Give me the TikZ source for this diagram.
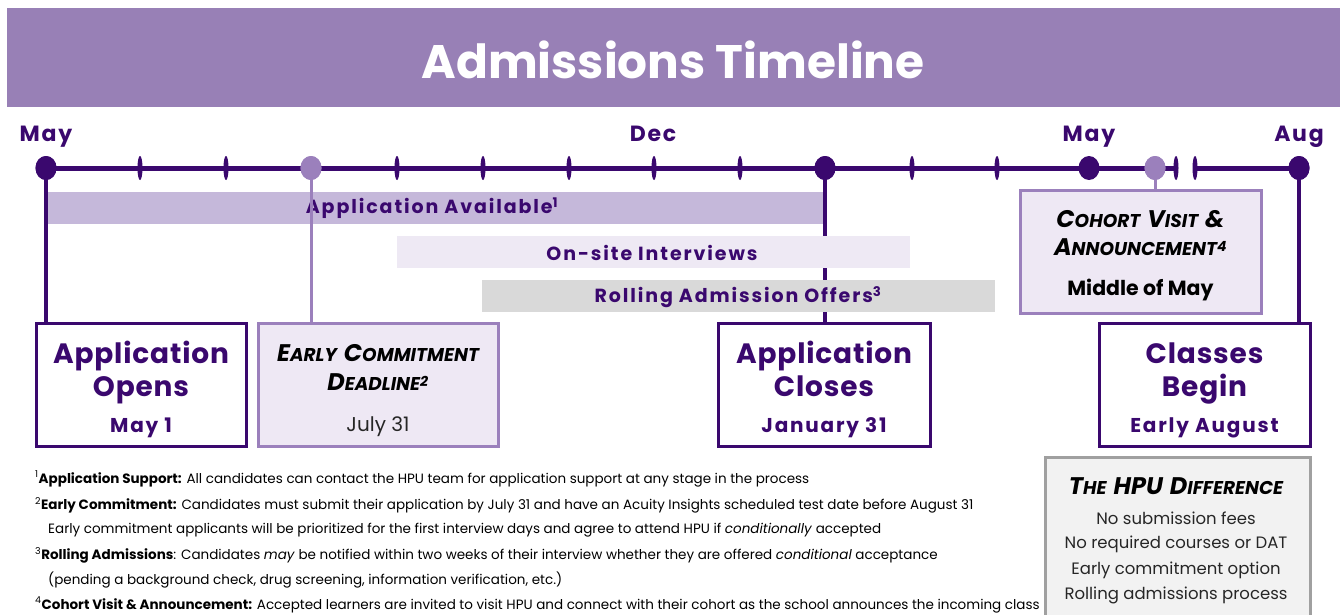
\documentclass[tikz,border=0pt]{standalone}
\usepackage{fontspec}
\setmainfont{Poppins}
\usetikzlibrary{shapes.geometric}
\definecolor{dp}{RGB}{58,8,110}
\definecolor{lp}{RGB}{155,128,188}
\definecolor{titlebg}{RGB}{152,128,182}
\definecolor{bandA}{RGB}{197,184,218}
\definecolor{bandB}{RGB}{238,233,244}
\definecolor{bandC}{RGB}{217,217,217}
\definecolor{boxfill}{RGB}{238,232,244}
\definecolor{hpufill}{RGB}{242,242,242}
\definecolor{hpuline}{RGB}{160,160,160}
\newcommand\fs[1]{\fontsize{#1}{#1}\selectfont}
\newcommand\ls[1]{\addfontfeature{LetterSpace=#1}}
\newcommand\scap[2]{{\fs{24}#1}{\fs{18.5}#2}}
\newcommand\wsp{\hspace{7pt}}
\begin{document}
\begin{tikzpicture}[x=1pt,y=-1pt,
  month/.style={text=dp,font=\fs{22}\bfseries\ls{8}},
  bigdot/.style={ellipse,fill=dp,minimum width=21pt,minimum height=24pt,inner sep=0pt},
  litedot/.style={ellipse,fill=lp,minimum width=21pt,minimum height=24pt,inner sep=0pt},
  tickmark/.style={ellipse,fill=dp,minimum width=5pt,minimum height=24pt,inner sep=0pt},
  band/.style={anchor=north west,inner sep=0pt,minimum height=32pt},
  bandtext/.style={text=dp,font=\fs{19}\bfseries\ls{10}},
  darkbox/.style={draw=dp,line width=3pt,fill=white,minimum width=210pt,minimum height=123pt,inner sep=0pt},
  litebox/.style={draw=lp,line width=3pt,fill=boxfill,inner sep=0pt},
  boxhead/.style={anchor=base,text=dp,font=\fs{28}\bfseries\ls{3}},
  boxdate/.style={anchor=base,text=dp,font=\fs{20}\bfseries\ls{9}},
  sctext/.style={anchor=base,text=black,font=\bfseries\itshape},
  foot/.style={anchor=west,inner sep=0pt,font=\fs{13.5}},
  hpu/.style={font=\fs{16.5},text=black!85}
]
\useasboundingbox (0,0) rectangle (1340,615);
% title
\fill[titlebg] (7,8) rectangle (1340,107);
\node[text=white,font=\fs{47}\bfseries] (title) at (673,60) {Admissions Timeline};
% months
\node[month,anchor=base] (m1) at (46,142) {May};
\node[month,anchor=base] (m2) at (653,142) {Dec};
\node[month,anchor=base] (m3) at (1089,142) {May};
\node[month,anchor=base] (m4) at (1299,142) {Aug};
% boxes
\node[darkbox] (b1) at (141,384.5) {};
\node[litebox,minimum width=240pt,minimum height=123pt] (b2) at (378,384.5) {};
\node[darkbox,minimum width=212pt] (b3) at (824,384.5) {};
\node[darkbox,minimum width=211pt] (b4) at (1204.5,384.5) {};
\node[litebox,minimum width=241pt,minimum height=123pt] (b5) at (1140.5,251.5) {};
% timeline
\coordinate (L0) at (46,168);
\coordinate (L1) at (1176,168);
\coordinate (L2) at (1195,168);
\coordinate (L3) at (1299,168);
\draw[dp,line width=5pt] (L0) -- (L1);
\draw[dp,line width=5pt] (L2) -- (L3);
% application available band
\node[band,fill=bandA,minimum width=777pt] (bandA) at (46,192) {};
\node[bandtext] (bandAt) at (432,208) {Application Available\textsuperscript{1}};
% vertical connectors
\node[bigdot] (d0) at (46,168) {};
\node[litedot] (d1) at (311,168) {};
\node[bigdot] (d2) at (825,168) {};
\node[bigdot] (d3) at (1089,168) {};
\node[litedot] (d4) at (1155,168) {};
\node[bigdot] (d5) at (1299,168) {};
\draw[dp,line width=3.5pt] (d0.center) -- (d0.center |- b1.north);
\draw[lp,line width=3pt] (d1.center) -- (d1.center |- b2.north);
\draw[dp,line width=3.5pt] (d2.center) -- (d2.center |- b3.north);
\draw[lp,line width=3pt] (d4.center) -- (d4.center |- b5.north);
\draw[dp,line width=3.5pt] (d5.center) -- (d5.center |- b4.north);
\node[bigdot] at (d0) {};
\node[litedot] at (d1) {};
\node[bigdot] at (d2) {};
\node[litedot] at (d4) {};
\node[bigdot] at (d5) {};
% ticks
\foreach \x/\n in {140/t1,226/t2,397/t3,483/t4,569/t5,654/t6,740/t7,912/t8,997/t9,1176/t10,1195/t11}
  \node[tickmark] (\n) at (\x,168) {};
% other bands
\node[band,fill=bandB,minimum width=513pt] (bandB) at (397,236) {};
\node[bandtext] (bandBt) at (652,253) {On-site Interviews};
\node[band,fill=bandC,minimum width=513pt] (bandC) at (482,280) {};
\node[bandtext] (bandCt) at (738,297) {Rolling Admission Offers\textsuperscript{3}};
% box texts
\node[boxhead] (b1a) at (141,363) {Application};
\node[boxhead] (b1b) at (141,396) {Opens};
\node[boxdate] (b1c) at (141,432) {May 1};
\node[sctext] (b2a) at (378,361) {\scap{E}{ARLY}\wsp\scap{C}{OMMITMENT}};
\node[sctext] (b2b) at (378,390) {\scap{D}{EADLINE}\textsuperscript{\fs{14}2}};
\node[anchor=base,font=\fs{20},text=black!85] (b2c) at (378,431) {July 31};
\node[boxhead] (b3a) at (824,363) {Application};
\node[boxhead] (b3b) at (824,396) {Closes};
\node[boxdate] (b3c) at (824,432) {January 31};
\node[boxhead] (b4a) at (1204.5,363) {Classes};
\node[boxhead] (b4b) at (1204.5,396) {Begin};
\node[boxdate] (b4c) at (1204.5,432) {Early August};
\node[sctext] (b5a) at (1140.5,227) {\scap{C}{OHORT}\wsp\scap{V}{ISIT}\wsp{\fs{24}\&}};
\node[sctext] (b5b) at (1140.5,255) {\scap{A}{NNOUNCEMENT}\textsuperscript{\fs{14}4}};
\node[font=\fs{20.5}\bfseries,text=black] (b5c) at (1140.5,290) {Middle of May};
% HPU difference
\node[draw=hpuline,line width=3pt,fill=hpufill,anchor=north west,minimum width=265pt,minimum height=175pt,inner sep=0pt] (hpubox) at (1044,456) {};
\node[sctext] (h0) at (1176,494) {\scap{T}{HE}\wsp{\fs{24}HPU}\wsp\scap{D}{IFFERENCE}};
\node[hpu] (h1) at (1176,518) {No submission fees};
\node[hpu] (h2) at (1176,544) {No required courses or DAT};
\node[hpu] (h3) at (1176,570) {Early commitment option};
\node[hpu] (h4) at (1176,595) {Rolling admissions process};
% footnotes
\node[foot] (f1) at (35,479) {\textsuperscript{1}\textbf{Application Support:} All candidates can contact the HPU team for application support at any stage in the process};
\node[foot] (f2) at (35,505) {\textsuperscript{2}\textbf{Early Commitment:} Candidates must submit their application by July 31 and have an Acuity Insights scheduled test date before August 31};
\node[foot] (f3) at (48,530) {Early commitment applicants will be prioritized for the first interview days and agree to attend HPU if \textit{conditionally} accepted};
\node[foot] (f4) at (35,555) {\textsuperscript{3}\textbf{Rolling Admissions}: Candidates \textit{may} be notified within two weeks of their interview whether they are offered \textit{conditional} acceptance};
\node[foot] (f5) at (48,580) {(pending a background check, drug screening, information verification, etc.)};
\node[foot] (f6) at (35,605) {\textsuperscript{4}\textbf{Cohort Visit \& Announcement:} Accepted learners are invited to visit HPU and connect with their cohort as the school announces the incoming class};
\end{tikzpicture}
\end{document}
